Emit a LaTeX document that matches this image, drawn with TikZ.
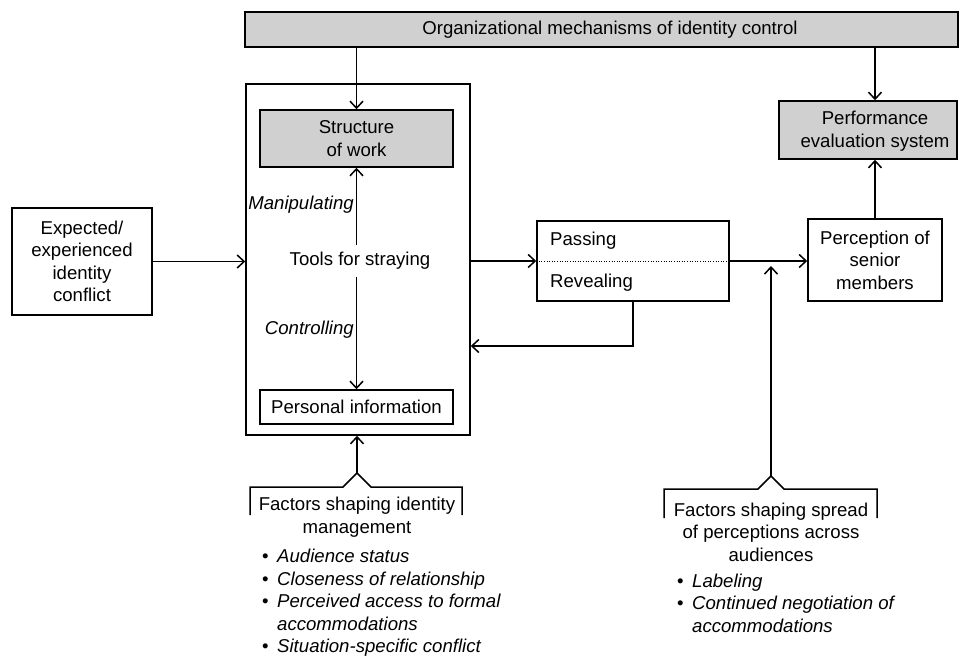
\documentclass[tikz,border=0pt]{standalone}
\usepackage{fontspec}
\setmainfont{Liberation Sans}
\usetikzlibrary{arrows.meta}
\definecolor{boxgray}{RGB}{208,208,208}
\newcommand\bul{\makebox[15pt][l]{\upshape\textbullet}}
\newcommand\ind{\hspace*{15pt}}
\begin{document}
\begin{tikzpicture}[x=1pt,y=-1pt,
  every node/.style={font=\fontsize{18.6}{22.5}\selectfont, inner sep=0pt},
  box/.style={draw, line width=1.5pt, align=center},
  shadebox/.style={box, fill=boxgray},
  arr/.style={line width=1.5pt, -{Straight Barb[length=7pt,width=13pt]}},
  ln/.style={line width=1.5pt},
  lbl/.style={font=\fontsize{18.6}{22.5}\selectfont\itshape},
]
\useasboundingbox (0,0) rectangle (962,656);

% top banner
\node[shadebox, minimum width=713pt, minimum height=35pt] (banner) at (601.5,29.5) {};
\node (bannertext) at (610,30) {Organizational mechanisms of identity control};

% big box with its contents
\node[box, minimum width=224pt, minimum height=351pt] (big) at (358,259.5) {};
\node[shadebox, minimum width=193pt, minimum height=57pt] (sw) at (356.5,138.5) {Structure\\of work};
\node[box, minimum width=193pt, minimum height=34pt] (pi) at (356.5,407) {Personal information};
\node[inner ysep=7pt] (tools) at (360,261) {Tools for straying};
\node[lbl, anchor=east] (manip) at (354,205) {Manipulating};
\node[lbl, anchor=east] (ctrl) at (354,330) {Controlling};

% left box
\node[box, line width=1.3pt, minimum width=140pt, minimum height=107pt] (exp) at (82,261.5) {Expected/\\experienced\\identity\\conflict};

% passing / revealing
\node[box, minimum width=192pt, minimum height=80pt] (pr) at (633,261) {};
\node[anchor=west] (passing) at (550,241) {Passing};
\node[anchor=west] (revealing) at (550,283) {Revealing};
\draw[dotted, line width=0.6pt] (pr.west) -- (pr.east);

% right side
\node[box, minimum width=134pt, minimum height=82pt] (perc) at (875,260) {Perception of\\senior\\members};
\node[shadebox, minimum width=178pt, minimum height=58pt] (pes) at (868,130) {};
\node[align=center] (pestext) at (875,131) {Performance\\evaluation system};

% connectors
\draw[arr] (banner.south -| sw.north) -- (sw.north);
\draw[arr] (pestext |- banner.south) -- (pestext |- pes.north);
\draw[arr] (exp.east) -- (big.west |- exp.east);
\draw[arr] (big.east |- tools) -- (pr.west);
\draw[arr] (pr.east) -- (perc.west |- pr.east);
\draw[arr] (pestext |- perc.north) -- (pestext |- pes.south);
\draw[arr] (tools.north -| sw.south) -- (sw.south);
\draw[arr] (tools.south -| pi.north) -- (pi.north);
\coordinate (fb) at (634,346);
\draw[arr] (pr.south) |- (big.east |- fb);

% factors shaping identity management
\coordinate (imp) at (357,473);
\draw[ln] (250,515) -- (250,487) -- (343,487) -- (imp) -- (371,487) -- (462,487) -- (462,515);
\draw[arr] (imp) -- (imp |- big.south);
\node[align=center] (imt) at (357,517) {Factors shaping identity\\management};
\node[lbl, anchor=west, align=left] (imb) at (262,603) {\bul Audience status\\\bul Closeness of relationship\\\bul Perceived access to formal\\\ind accommodations\\\bul Situation-specific conflict};

% factors shaping spread
\coordinate (spp) at (771,476);
\coordinate (sptip) at (771,266);
\draw[ln] (664,518) -- (664,489) -- (758,489) -- (spp) -- (784,489) -- (877,489) -- (877,518);
\draw[arr] (spp) -- (sptip);
\node[align=center] (spt) at (771,532) {Factors shaping spread\\of perceptions across\\audiences};
\node[lbl, anchor=west, align=left] (spb) at (677,603) {\bul Labeling\\\bul Continued negotiation of\\\ind accommodations};
\end{tikzpicture}
\end{document}
